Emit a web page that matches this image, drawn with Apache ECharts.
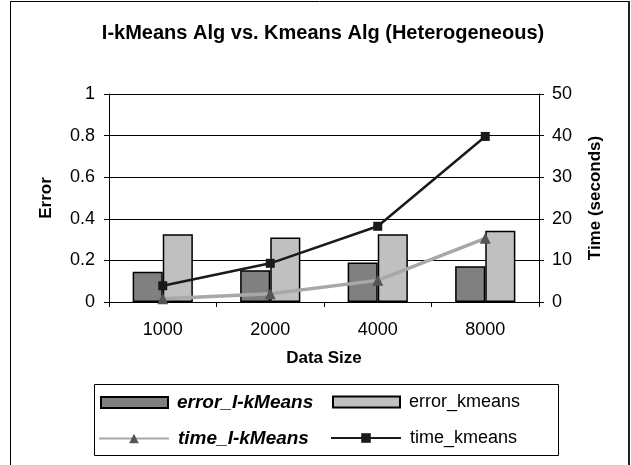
<!DOCTYPE html>
<html><head><meta charset="utf-8">
<script src="https://cdn.jsdelivr.net/npm/echarts@6/dist/echarts.min.js"></script>
<style>html,body{margin:0;padding:0;background:#fff}#c{width:631px;height:465px}</style>
</head><body><div id="c"></div>
<script>
const categories = ['1000', '2000', '4000', '8000'];
const errorIkMeans = [0.145, 0.153, 0.19, 0.172];
const errorKmeans = [0.326, 0.31, 0.326, 0.342];
const timeIkMeans = [0.8, 2.0, 5.2, 15.3];
const timeKmeans = [3.9, 9.3, 18.2, 39.8];

const FONT = 'Liberation Sans, Arial, sans-serif';
const chart = echarts.init(document.getElementById('c'));
const legendBase = {orient: 'horizontal', padding: 0, itemGap: 0, textStyle: {fontFamily: FONT, fontSize: 18, color: '#000', padding: [0, 0, 0, 4]}};
const biStyle = {fontWeight: 'bold', fontStyle: 'italic', fontSize: 19, padding: [0, 0, 0, 4]};
chart.setOption({
  animation: false,
  backgroundColor: '#fff',
  grid: {left: 109, right: 92, top: 94, bottom: 163},
  graphic: [
    {type: 'rect', shape: {x: 10.5, y: 1.5, width: 618, height: 500}, style: {fill: 'none', stroke: '#000', lineWidth: 1}},
    {type: 'rect', shape: {x: 628, y: 1, width: 2, height: 500}, style: {fill: '#222'}},
    {type: 'rect', shape: {x: 94.5, y: 384.5, width: 464, height: 71}, style: {fill: 'none', stroke: '#000', lineWidth: 1}},
    {type: 'text', x: 323, y: 33, style: {text: 'I-kMeans Alg vs. Kmeans Alg (Heterogeneous)', font: 'bold 20px ' + FONT, fill: '#000', textAlign: 'center', textVerticalAlign: 'middle'}}
  ],
  legend: [
    Object.assign({}, legendBase, {left: 100, top: 393, itemWidth: 67, itemHeight: 11, data: [{name: 'error_I-kMeans', icon: 'rect', textStyle: biStyle}]}),
    Object.assign({}, legendBase, {left: 332, top: 393, itemWidth: 67, itemHeight: 11, data: [{name: 'error_kmeans', icon: 'rect'}]}),
    Object.assign({}, legendBase, {left: 98, top: 429, itemWidth: 70, itemHeight: 12, data: [{name: 'time_I-kMeans', textStyle: biStyle}]}),
    Object.assign({}, legendBase, {left: 330, top: 429, itemWidth: 70, itemHeight: 12, data: [{name: 'time_kmeans'}]})
  ],
  xAxis: {
    type: 'category', data: categories, boundaryGap: true,
    name: 'Data Size', nameLocation: 'middle', nameGap: 48,
    nameTextStyle: {fontFamily: FONT, fontSize: 17, fontWeight: 'bold', color: '#000'},
    axisLine: {lineStyle: {color: '#000', width: 1}},
    axisTick: {show: true, length: 5, lineStyle: {color: '#000'}},
    axisLabel: {fontFamily: FONT, fontSize: 18, color: '#000', margin: 19},
    splitLine: {show: false}
  },
  yAxis: [
    {type: 'value', min: 0, max: 1, interval: 0.2,
     name: 'Error', nameLocation: 'middle', nameGap: 54, nameRotate: 90,
     nameTextStyle: {fontFamily: FONT, fontSize: 17, fontWeight: 'bold', color: '#000'},
     axisLine: {show: true, lineStyle: {color: '#000'}},
     axisTick: {show: true, length: 5, lineStyle: {color: '#000'}},
     axisLabel: {fontFamily: FONT, fontSize: 18, color: '#000', margin: 14},
     splitLine: {show: true, lineStyle: {color: '#000', width: 1}}},
    {type: 'value', min: 0, max: 50, interval: 10, position: 'right',
     name: 'Time (seconds)', nameLocation: 'middle', nameGap: 48, nameRotate: 90,
     nameTextStyle: {fontFamily: FONT, fontSize: 17, fontWeight: 'bold', color: '#000'},
     axisLine: {show: true, lineStyle: {color: '#000'}},
     axisTick: {show: true, length: 5, lineStyle: {color: '#000'}},
     axisLabel: {fontFamily: FONT, fontSize: 18, color: '#000', margin: 13},
     splitLine: {show: false}}
  ],
  series: [
    {name: 'error_I-kMeans', type: 'bar', yAxisIndex: 0, data: errorIkMeans, barGap: '0%', barCategoryGap: '44%',
     itemStyle: {color: '#808080', borderColor: '#000', borderWidth: 1.5}},
    {name: 'error_kmeans', type: 'bar', yAxisIndex: 0, data: errorKmeans, barGap: '0%', barCategoryGap: '44%',
     itemStyle: {color: '#c0c0c0', borderColor: '#000', borderWidth: 1.5}},
    {name: 'time_I-kMeans', type: 'line', yAxisIndex: 1, data: timeIkMeans, symbol: 'triangle', symbolSize: 11,
     lineStyle: {color: '#a8a8a8', width: 3.5}, itemStyle: {color: '#555'}},
    {name: 'time_kmeans', type: 'line', yAxisIndex: 1, data: timeKmeans, symbol: 'rect', symbolSize: 9,
     lineStyle: {color: '#1a1a1a', width: 2.5}, itemStyle: {color: '#1a1a1a'}}
  ]
});
</script></body></html>
